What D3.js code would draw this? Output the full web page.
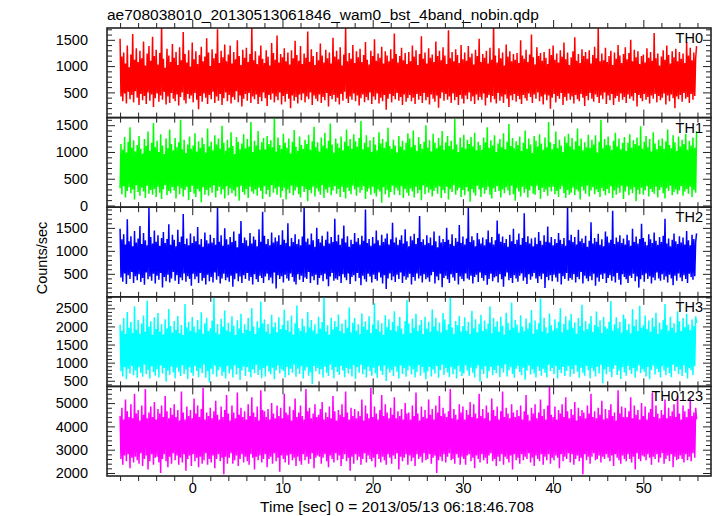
<!DOCTYPE html>
<html><head><meta charset="utf-8">
<script src="https://cdn.jsdelivr.net/npm/d3@7"></script>
<style>body{margin:0;background:#fff}svg{display:block}text{font-family:"Liberation Sans",Arial,sans-serif;fill:#000}</style>
</head><body>
<script>
const title = "ae708038010_20130513061846_wam0_bst_4band_nobin.qdp";
const xLabel = "Time [sec] 0 = 2013/05/13 06:18:46.708";
const yLabel = "Counts/sec";
const panelNames = ["TH0","TH1","TH2","TH3","TH0123"];
const panelColors = ["#ff0000","#00ff00","#0000ff","#00ffff","#ff00ff"];
const t0 = -8.0, dt = 0.1;
const xTicks = [0,10,20,30,40,50];
const yTicks0 = [500,1000,1500];
const yTicks1 = [0,500,1000,1500];
const yTicks2 = [500,1000,1500];
const yTicks3 = [500,1000,1500,2000,2500];
const yTicks4 = [2000,3000,4000,5000];
const yRange0 = [20,1725], yRange1 = [-32,1642], yRange2 = [0,1950], yRange3 = [344,2818], yRange4 = [1871,5716];
const yMinorStep = [100,100,100,100,200];

const th0 = [1520,420,1180,330,1260,480,1050,290,1390,510,980,370,1220,450,1610,310,1120,520,1340,400,
1080,260,1290,470,1150,350,1470,430,1010,280,1240,500,1380,340,1100,460,1560,220,1190,390,
1310,480,1030,320,1250,440,1790,360,1140,510,970,270,1330,420,1200,300,1080,490,1420,380,
1160,330,1270,460,1020,250,1360,410,1110,500,1650,350,1230,290,1070,470,1300,380,990,440,
1450,310,1130,490,1280,360,1040,180,1210,430,1370,320,1090,480,1180,400,1530,280,1260,450,
1000,370,1320,510,1150,300,1240,420,1700,340,1060,470,1290,260,1170,390,1410,500,1090,330,
1220,450,1390,290,1050,410,1270,360,1130,520,1490,310,1190,440,1020,230,1310,380,1160,470,
1350,340,1080,490,1230,300,1760,420,1110,370,1280,460,1040,280,1200,410,1390,330,1140,500,
1060,390,1300,240,1180,450,1010,360,1440,480,1250,310,1120,420,1580,350,1070,500,1230,270,
1170,430,1340,320,1090,470,1260,380,1030,200,1300,440,1150,340,1480,410,1210,290,1100,460,
1380,350,1040,480,1240,310,1160,420,1660,370,1080,500,1320,260,1190,440,1020,380,1270,330,
1110,460,1430,300,1200,410,1070,350,1310,490,1150,230,1260,430,1050,370,1540,450,1180,320,
1290,400,1130,270,1360,470,1010,340,1220,510,1740,380,1090,300,1250,420,1140,360,1400,480,
1060,330,1280,440,1170,250,1330,390,1080,460,1210,310,1460,410,1120,350,1030,500,1290,280,
1190,420,1510,360,1100,480,1240,290,1160,400,1370,330,1050,450,1280,170,1200,380,1090,470,
1320,310,1140,430,1620,370,1230,490,1070,340,1190,410,1350,260,1110,460,1250,320,1040,390,
1270,450,1090,330,1390,400,1180,280,1300,470,1020,360,1230,430,1570,300,1140,490,1260,350,
1050,410,1340,270,1160,460,1220,380,1080,320,1470,440,1190,210,1290,390,1110,500,1360,340,
1200,470,1040,360,1680,420,1150,300,1270,480,1090,350,1320,410,1210,260,1060,450,1400,380,
1130,290,1260,440,1100,370,1380,500,1170,330,1240,420,1030,280,1310,460,1190,350,1520,410,
1080,360,1230,480,1160,250,1290,400,1050,450,1350,310,1120,430,1800,370,1200,290,1070,490,
1340,340,1150,420,1260,300,1010,460,1410,380,1180,220,1280,440,1090,350,1230,470,1120,320,
1250,430,1060,370,1490,280,1200,450,1140,390,1310,340,1080,480,1220,410,1600,300,1170,460,
1030,380,1360,500,1190,330,1250,420,1100,270,1270,460,1160,350,1040,440,1330,190,1210,400,
1390,470,1120,310,1240,430,1070,380,1300,490,1180,260,1450,410,1130,340,1260,480,1020,360,
1170,420,1280,290,1550,450,1100,370,1230,330,1060,470,1320,400,1190,240,1270,430,1140,350,
1300,490,1050,380,1210,320,1370,460,1150,410,1720,300,1090,440,1240,370,1110,500,1350,280,
1080,440,1190,350,1290,470,1020,260,1260,390,1140,430,1400,320,1200,480,1060,360,1230,410,
1360,300,1130,460,1250,380,1500,420,1090,340,1310,490,1170,230,1280,450,1040,390,1190,330,
1220,470,1070,360,1340,410,1160,290,1270,440,1100,380,1630,470,1150,310,1240,430,1010,350,
1180,400,1300,480,1120,270,1390,440,1210,330,1050,460,1280,390,1170,200,1330,420,1090,370,
1270,450,1140,320,1240,490,1060,380,1460,410,1200,300,1350,470,1110,360,1260,430,1150,1380];

const th1 = [320,1150,210,1040,360,1280,150,990,270,1190,340,1460,230,1080,300,1220,110,1010,380,1130,
250,1300,180,1060,330,970,260,1240,140,1110,370,1380,220,1020,290,1170,200,1540,310,1090,
160,1210,350,1000,240,1330,120,1120,300,960,380,1250,190,1070,270,1420,230,1150,340,1030,
280,1260,130,1090,360,1180,210,1600,320,1050,170,1230,290,980,350,1140,100,1290,250,1060,
370,1120,220,1350,160,1010,310,1200,260,1080,60,1270,340,1150,200,990,290,1440,180,1100,
330,1190,240,1030,380,1310,150,1140,270,1250,350,1060,210,1490,300,1170,130,1020,360,1230,
190,1080,320,1370,230,1110,280,960,170,1280,340,1190,90,1050,370,1160,250,1330,200,1070,
310,1240,140,1100,350,1560,260,1000,220,1210,300,1120,180,1390,330,1040,270,1180,120,1260,
360,1050,210,1300,290,1150,160,1220,380,1090,240,1640,320,1010,200,1270,350,1130,150,1060,
270,1340,330,1170,110,1080,300,1250,230,970,370,1190,190,1410,280,1100,340,1020,210,1290,
150,1130,360,1060,250,1230,310,1150,80,1320,290,1040,230,1200,350,1470,170,1090,320,1180,
260,1010,200,1270,380,1120,140,1360,300,1070,240,1210,340,1530,190,1140,280,990,360,1250,
220,1160,310,1080,160,1290,350,1030,250,1190,130,1420,330,1110,270,1240,210,1060,370,1330,
300,1200,180,1100,340,1260,240,1580,290,1050,360,1170,120,1310,260,1090,320,1220,200,1000,
350,1280,230,1140,170,1030,300,1370,260,1160,50,1240,340,1080,210,1190,290,1450,150,1110,
250,1060,370,1230,200,1120,330,990,280,1300,190,1100,360,1210,140,1040,310,1170,240,1350,
180,1250,320,1090,260,1400,150,1130,350,1020,230,1280,290,1150,100,1060,380,1190,210,1500,
340,1080,240,1220,300,1010,170,1340,270,1170,330,1070,220,1260,360,1120,140,1390,290,1040,
230,1180,350,1300,110,1110,310,1210,250,1050,380,1620,200,1140,280,1000,330,1270,160,1090,
290,1320,190,1060,340,1230,260,1150,70,1280,310,1100,240,1360,180,1030,370,1190,300,1130,
160,1040,330,1270,220,1180,290,1460,350,1080,200,1220,130,1120,320,1310,250,1000,360,1160,
270,1240,150,1090,300,1350,230,1050,340,1190,280,1520,190,1110,370,1260,210,1070,90,1200,
320,1130,260,1290,170,1020,350,1170,240,1400,310,1060,150,1250,280,1140,360,980,220,1300,
200,1210,370,1100,290,1330,120,1160,330,1040,250,1270,300,1090,180,1560,340,1180,260,1050,
350,1150,210,1380,270,1070,160,1230,310,1120,360,1000,230,1290,140,1170,290,1340,200,1100,
240,1260,330,1050,190,1200,300,1440,260,1110,110,1250,350,1030,280,1180,220,1090,370,1320,
170,1080,280,1230,340,1140,210,1310,300,990,250,1190,160,1600,320,1070,270,1240,190,1130,
310,1290,230,1120,360,1040,140,1210,280,1360,200,1100,330,1250,240,1050,370,1170,120,1280,
260,1020,350,1170,190,1330,300,1080,230,1220,340,1150,80,1270,290,1120,210,1480,330,1060,
200,1190,280,1300,360,1090,170,1240,310,1010,250,1370,220,1160,350,1050,150,1230,290,1110,
340,1250,230,1060,130,1200,320,1420,270,1130,370,1070,190,1310,250,1180,300,1020,210,1290,
280,1100,360,1230,180,1150,260,1340,310,1040,220,1210,350,1120,160,1270,290,1080,240,1390];

const th2 = [1480,420,1250,330,1360,510,1140,280,1690,470,1210,390,1320,540,1100,300,1430,450,1180,360,
1270,490,1540,320,1150,410,1390,260,1230,530,1120,380,1950,440,1300,350,1160,500,1440,290,
1200,460,1340,370,1110,520,1280,200,1410,430,1170,340,1260,480,1580,310,1130,400,1350,540,
1240,350,1100,470,1460,280,1190,420,1310,360,1800,510,1150,330,1270,450,1120,390,1380,240,
1170,500,1320,380,1210,440,1520,300,1140,520,1260,350,1090,410,1400,270,1230,480,1160,340,
1350,430,1180,310,1280,530,1130,370,1960,450,1200,290,1340,400,1110,500,1490,360,1250,420,
1140,330,1300,460,1190,220,1420,380,1220,510,1080,340,1370,440,1650,300,1170,470,1290,390,
1230,520,1110,350,1390,430,1160,270,1310,490,1240,380,1100,320,1470,460,1200,410,1850,300,
1330,440,1150,500,1260,360,1120,420,1400,290,1180,530,1290,180,1210,470,1340,390,1130,450,
1450,310,1240,480,1170,400,1600,350,1100,510,1280,430,1190,330,1360,270,1150,490,1250,370,
1120,460,1310,320,1980,420,1200,390,1270,540,1140,300,1380,450,1230,360,1090,480,1500,260,
1260,410,1180,470,1330,340,1110,500,1240,380,1420,230,1160,440,1300,520,1190,350,1700,400,
1210,370,1350,450,1130,300,1270,490,1550,420,1180,360,1320,510,1090,280,1240,430,1150,470,
1390,340,1200,520,1280,410,1140,250,1330,460,1220,380,1900,330,1170,500,1260,440,1110,310,
1300,480,1160,390,1440,350,1230,530,1120,420,1350,290,1190,470,1270,170,1380,400,1140,510,
1250,360,1610,440,1180,320,1290,480,1130,390,1240,530,1340,300,1160,450,1470,370,1210,420,
1100,500,1320,270,1230,430,1370,350,1150,510,1280,400,1760,460,1190,310,1250,490,1130,380,
1340,420,1170,330,1290,470,1120,540,1420,290,1210,440,1080,360,1330,500,1180,210,1260,410,
1190,460,1500,380,1240,300,1150,490,1360,420,1110,350,1280,520,1200,270,1560,440,1170,390,
1310,340,1140,510,1270,400,1940,370,1190,460,1320,290,1230,430,1100,480,1390,320,1250,530,
1160,410,1290,350,1120,470,1250,260,1440,390,1180,500,1300,340,1140,420,1230,450,1660,310,
1370,490,1200,380,1310,220,1170,440,1260,530,1090,360,1350,410,1210,300,1480,470,1150,400,
1240,330,1380,460,1130,510,1280,350,1820,420,1190,280,1320,490,1160,370,1270,440,1100,520,
1290,400,1150,300,1410,450,1220,380,1130,500,1340,190,1200,430,1530,360,1180,470,1300,340,
1120,480,1260,420,1170,330,1390,510,1240,270,1150,450,1280,390,1110,520,1960,350,1230,410,
1350,370,1190,490,1300,310,1140,430,1460,380,1210,540,1270,290,1170,460,1330,400,1090,340,
1220,450,1620,360,1160,500,1280,240,1200,420,1370,330,1130,480,1250,390,1100,510,1420,300,
1310,410,1180,470,1240,350,1870,440,1150,310,1290,520,1200,370,1340,260,1170,490,1270,430,
1140,380,1350,300,1230,460,1110,410,1480,500,1190,340,1310,440,1160,200,1260,380,1590,470,
1280,330,1200,510,1120,390,1360,450,1250,290,1170,420,1400,360,1220,530,1130,400,1300,350,
1190,490,1330,370,1700,440,1160,310,1270,480,1100,400,1240,250,1380,460,1210,350,1150,510,
1320,420,1180,340,1290,470,1140,390,1430,300,1230,500,1120,430,1350,370,1260,450,1190,1380];

const th3 = [2050,760,1880,620,2230,880,1790,540,2400,830,1960,700,2120,910,1820,650,2560,790,1910,580,
2180,870,1800,720,2080,610,2300,940,1850,680,2710,800,1990,560,2140,900,1770,740,2250,640,
1930,820,2370,590,1860,920,2060,700,1780,850,2200,480,1940,780,2480,660,2010,890,1830,730,
2150,570,1900,860,2290,750,1810,630,2040,930,1760,690,2620,810,1970,550,2130,870,1880,720,
2260,640,2000,900,1840,770,2180,600,1920,840,2390,710,1800,950,2090,580,2240,760,1870,450,
1950,830,2160,680,2790,920,1830,610,2070,790,1780,870,2210,640,1990,740,2440,560,1890,910,
2100,700,1850,810,2280,590,2020,930,1760,670,2170,850,1940,520,2350,780,1820,890,2060,630,
1910,880,2230,740,1870,600,2500,820,2000,710,1790,940,2140,660,1960,800,2690,570,2080,850,
2190,620,1860,910,2070,750,1800,680,2320,860,1980,540,2110,790,1840,920,2250,700,1930,820,
2040,770,2460,590,1900,880,2160,650,1850,830,2300,720,1770,950,2090,610,2580,840,1950,690,
1880,900,2210,560,2010,780,1830,870,2400,640,1970,730,2180,410,1890,910,2060,760,1800,850,
2270,680,1940,820,2120,590,2840,890,1860,720,2030,630,1780,940,2240,800,1920,570,2150,870,
1990,740,2330,660,1870,910,2080,780,1810,600,2190,850,1960,700,2520,830,1840,620,2100,930,
2230,550,1890,870,2060,720,1790,940,2360,680,2000,810,2140,590,1910,890,2280,760,1820,640,
2050,860,2640,710,1930,580,2170,900,1850,770,2090,660,1770,920,2310,490,1980,840,2200,730,
1900,800,2120,630,2420,890,1860,750,2020,560,2260,920,1940,690,1800,850,2150,610,2730,780,
2080,900,1820,670,2210,820,1960,590,2350,740,1870,930,2040,640,2180,880,1790,720,2270,540,
1940,760,2130,880,1850,620,2470,810,2000,700,2240,910,1880,580,2110,790,1830,940,2370,660,
2190,850,1910,730,2060,600,2800,870,1970,680,1800,820,2150,560,2030,910,2290,750,1860,630,
2010,700,2250,920,1880,780,2120,640,1790,860,2430,720,1950,590,2200,840,1840,930,2070,470,
2320,810,1870,690,2160,900,1930,570,2080,760,2550,880,1810,650,2230,800,1990,710,2140,920,
1850,600,2270,840,2020,730,1780,950,2380,620,2100,790,1900,870,2660,690,1960,580,2180,830,
2050,910,1830,740,2310,650,2000,860,1870,530,2220,780,1940,920,2100,670,2450,810,1800,700,
2160,590,1920,890,2090,770,2770,640,1860,830,2240,720,1980,600,1820,940,2360,760,2030,850,
1890,680,2200,910,1950,560,2130,800,2500,710,1840,880,2070,630,2280,770,1910,900,2170,610,
2340,820,1960,690,2110,930,1800,750,2230,580,2010,860,2600,720,1870,640,2150,910,1930,790,
2080,570,2290,850,1850,760,2040,620,2410,890,1990,700,2170,940,1820,430,2260,810,2000,680,
1940,880,2130,740,2700,600,1890,830,2060,920,2250,660,1950,780,2120,550,1830,870,2330,730,
2210,640,1900,910,2070,790,1810,690,2480,850,2010,580,2190,760,1870,930,2570,710,1960,820,
2030,750,2300,620,1930,880,2160,540,1850,800,2240,920,1990,670,2380,830,1800,740,2110,590,
1920,900,2180,780,2620,650,2040,860,1880,710,2270,600,1960,940,2090,770,1830,880,2420,690,
2140,810,1870,630,2230,920,1980,720,2350,560,2050,850,1900,790,2190,660,2010,900,2280,2100];

const th0123 = [4450,2600,4800,2350,4300,2750,5150,2500,4650,2800,4400,2200,4950,2650,4350,2450,5400,2700,4550,2550,
4700,2400,4250,2850,4900,2300,4500,2600,5600,2750,4350,2150,4600,2500,4850,2800,4400,2350,5050,2650,
4300,2700,4750,2450,4550,2000,4900,2600,4400,2800,5300,2500,4650,2250,4350,2700,4800,2400,4500,2850,
4950,2550,4400,2750,4700,2350,4250,2650,5500,2450,4600,2800,4300,2100,4850,2600,4450,2750,4700,2300,
4350,2800,5200,2500,4550,2650,4900,2250,4400,2700,4750,2400,5650,2550,4300,2850,4600,2350,4450,2600,
4800,2450,4350,2750,4650,2200,5100,2600,4500,2800,4300,2500,4850,2650,4400,1950,4700,2700,5350,2400,
4550,2650,4250,2850,4900,2400,4600,2550,4350,2750,5450,2300,4500,2600,4800,2800,4400,2450,4650,2700,
4300,2500,4950,2350,4450,2800,5250,2650,4600,2150,4400,2700,4850,2550,4250,2750,5550,2450,4700,2600,
4650,2800,4400,2250,4750,2600,4300,2700,5000,2400,4550,2850,4350,2500,4900,2650,4450,2050,4800,2750,
4350,2600,5400,2450,4600,2750,4500,2350,4850,2800,4250,2550,4700,2650,5200,2300,4400,2700,4600,2500,
4900,2350,4450,2800,4300,2550,5600,2700,4650,2400,4800,2600,4350,2850,4550,2200,4950,2650,4400,2750,
4500,2700,4750,2400,5050,2650,4300,2800,4600,2500,4400,2250,4850,2750,4350,2600,5300,2450,4650,2850,
4250,2550,4700,2750,4500,2300,4950,2600,4400,2800,5500,2500,4600,2650,4300,2100,4800,2700,4450,2400,
4750,2800,4350,2550,4650,2700,4450,2350,5150,2600,4250,2850,4900,2450,4550,2750,4350,2600,5650,2500,
4400,2650,4850,2250,4550,2800,4300,2600,4700,2450,5350,2700,4450,2550,4950,2350,4600,2800,4350,2650,
4800,2400,4500,2750,5250,2600,4350,2850,4650,2150,4450,2700,4750,2500,4300,2650,5000,2800,4550,2350,
4600,2750,4300,2500,4900,2650,4450,2300,5450,2800,4550,2600,4250,2700,4850,2450,4400,2850,4700,2550,
4350,2600,5150,2800,4500,2400,4750,2650,4300,2750,4900,2000,4600,2550,5300,2700,4450,2500,4800,2800,
4550,2450,4400,2700,4650,2850,5600,2550,4350,2600,4750,2400,4500,2800,4300,2650,4950,2350,4600,2700,
4850,2600,4300,2350,4700,2750,4500,2800,5050,2500,4400,2650,4950,2200,4550,2750,4350,2600,5400,2450,
4450,2800,4750,2550,4350,2650,4900,2400,4600,2750,4250,2850,5200,2500,4700,2600,4450,2300,4850,2700,
4300,2500,4650,2800,5500,2350,4400,2700,4800,2600,4550,2450,4350,2750,4950,2150,4600,2800,4400,2550,
4700,2650,4450,2400,4900,2800,4300,2550,4650,2700,5350,2600,4500,2850,4250,2450,4800,2650,4550,2300,
4950,2750,4350,2600,4600,2500,5150,2800,4450,2350,4750,2700,4300,2550,4900,2800,5700,2400,4500,2650,
4400,2550,4850,2750,4300,2650,4700,2200,4550,2800,4950,2500,4400,2700,5250,2600,4650,2850,4350,2450,
4750,2800,4500,2350,5050,2600,4250,2750,4800,2500,4450,2650,4700,1950,4600,2800,4350,2550,4900,2700,
4550,2400,5400,2700,4400,2850,4650,2550,4350,2600,4800,2750,4500,2450,5100,2700,4300,2600,4750,2800,
4350,2650,4700,2500,4950,2750,4450,2300,4600,2800,4250,2650,5550,2550,4550,2400,4850,2750,4400,2600,
4800,2500,4400,2800,4650,2600,5250,2450,4350,2700,4900,2150,4500,2850,4700,2600,4300,2500,5000,2750,
4450,2700,4850,2550,4300,2800,4600,2650,4750,2350,5450,2700,4400,2600,4900,2800,4550,2450,4350,2650,
4700,2850,4500,2400,5150,2600,4350,2750,4800,2500,4450,2800,4650,2250,4950,2700,4400,2550,5300,2600,
4550,2750,4300,2600,4900,2450,4650,2800,4400,2550,4750,2700,5200,2500,4450,2850,4600,2650,4800,4300];

const seriesList = [th0, th1, th2, th3, th0123];
const yTicksList = [yTicks0, yTicks1, yTicks2, yTicks3, yTicks4];
const yRanges = [yRange0, yRange1, yRange2, yRange3, yRange4];

const W = 717, H = 516;
const L = 107, R = 711, T = 28, B = 476;
const ph = (B - T) / 5;
const FONT = "Liberation Sans, Arial, sans-serif";
const svg = d3.select("body").append("svg").attr("width", W).attr("height", H);
const x = d3.scaleLinear().domain([-9.45, 57.5]).range([L, R]);
const xMinor = d3.range(-8, 58, 2);

svg.append("text").attr("x", L).attr("y", 20).attr("font-size", 15.5).text(title);

function tickAxis(axisFn, scale, vals, size, tx, ty, g) {
  const a = axisFn(scale).tickValues(vals).tickSizeInner(-size).tickSizeOuter(0).tickFormat("");
  const s = g.append("g").attr("transform", `translate(${tx},${ty})`).call(a);
  s.select(".domain").remove();
  s.selectAll("line").attr("stroke", "#222");
}

seriesList.forEach((vals, i) => {
  const top = T + i * ph, bot = top + ph;
  const y = d3.scaleLinear().domain(yRanges[i]).range([bot, top]);
  const g = svg.append("g");
  const cid = "clip" + i;
  svg.append("clipPath").attr("id", cid).append("rect")
    .attr("x", L).attr("y", top).attr("width", R - L).attr("height", ph);
  const line = d3.line().x((d, j) => x(t0 + j * dt)).y(d => y(d));
  g.append("path").datum(vals).attr("clip-path", `url(#${cid})`)
    .attr("d", line).attr("fill", "none").attr("stroke", panelColors[i])
    .attr("stroke-width", 1.5).attr("stroke-linejoin", "bevel");

  const mstep = yMinorStep[i];
  const minors = d3.range(Math.ceil(yRanges[i][0] / mstep) * mstep, yRanges[i][1], mstep)
    .filter(v => !yTicksList[i].includes(v));
  const yl = d3.axisLeft(y).tickValues(yTicksList[i]).tickSizeInner(-8).tickSizeOuter(0).tickPadding(19).tickFormat(d3.format("d"));
  const ga = g.append("g").attr("transform", `translate(${L},0)`).call(yl);
  ga.select(".domain").remove();
  ga.selectAll("text").attr("font-size", 14.5).attr("font-family", FONT).attr("fill", "#000");
  ga.selectAll("line").attr("stroke", "#222");
  tickAxis(d3.axisLeft, y, minors, 5, L, 0, g);
  tickAxis(d3.axisRight, y, yTicksList[i], 8, R, 0, g);
  tickAxis(d3.axisRight, y, minors, 5, R, 0, g);

  const xm = xMinor.filter(v => !xTicks.includes(v));
  tickAxis(d3.axisTop, x, xm, 5, 0, bot, g);
  tickAxis(d3.axisTop, x, xTicks, 8, 0, bot, g);
  tickAxis(d3.axisBottom, x, xm, 5, 0, top, g);
  tickAxis(d3.axisBottom, x, xTicks, 8, 0, top, g);

  g.append("rect").attr("x", L).attr("y", top).attr("width", R - L).attr("height", ph)
    .attr("fill", "none").attr("stroke", "#222").attr("stroke-width", 1.6);

  svg.append("text").attr("x", 703).attr("y", top + 15).attr("text-anchor", "end")
    .attr("font-size", 14.5).text(panelNames[i]);
});

const xb = d3.axisBottom(x).tickValues(xTicks).tickSize(0).tickPadding(7).tickFormat(d3.format("d"));
const gx = svg.append("g").attr("transform", `translate(0,${B})`).call(xb);
gx.select(".domain").remove();
gx.selectAll("text").attr("font-size", 14.5).attr("font-family", FONT).attr("fill", "#000");

svg.append("text").attr("x", 397).attr("y", 512).attr("text-anchor", "middle").attr("font-size", 15.5).text(xLabel);
svg.append("text").attr("transform", "translate(47,258) rotate(-90)").attr("text-anchor", "middle").attr("font-size", 14.5).text(yLabel);
</script>
</body></html>
